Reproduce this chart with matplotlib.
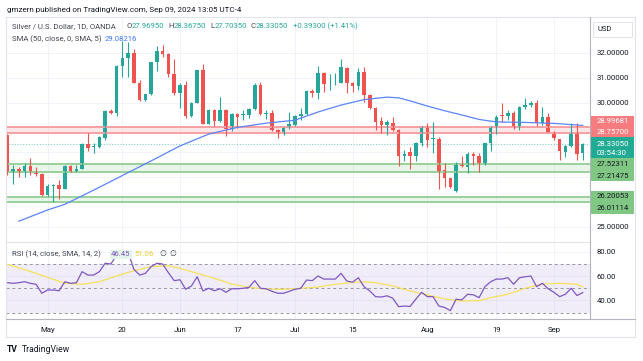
import numpy as np
import pandas as pd
import matplotlib
matplotlib.use('Agg')
import matplotlib.pyplot as plt
from matplotlib.patches import Rectangle
from matplotlib.lines import Line2D

plt.rcParams['font.family'] = ['Roboto', 'DejaVu Sans']

W, H = 643, 361

# 日线数据 (2024-04-22 ~ 2024-09-09)
dates = pd.bdate_range('2024-04-22', '2024-09-09')
opens = [28.69, 27.17, 27.31, 27.17, 27.45, 27.23, 27.14, 26.27, 26.64, 26.68,
         26.53, 27.46, 27.22, 27.33, 28.33, 28.19, 28.19, 28.58, 29.68, 29.56,
         31.48, 31.81, 32.01, 30.80, 30.10, 30.33, 31.62, 32.08, 31.96, 31.16,
         30.38, 30.72, 29.46, 29.99, 31.30, 29.15, 29.72, 29.25, 29.72, 28.93,
         29.54, 29.48, 29.51, 29.75, 30.72, 29.52, 29.58, 28.89, 28.73, 28.97,
         29.10, 29.46, 29.52, 30.46, 30.40, 31.20, 30.77, 30.77, 30.80, 31.38,
         30.77, 30.67, 31.23, 30.29, 29.80, 29.26, 29.09, 29.19, 28.89, 27.84,
         28.00, 27.84, 28.39, 29.02, 28.54, 28.55, 27.28, 26.94, 26.44, 27.53,
         27.39, 27.92, 27.84, 27.50, 28.36, 29.01, 29.50, 29.47, 29.56, 28.96,
         29.83, 29.90, 29.99, 29.16, 29.40, 28.82, 28.52, 28.02, 28.24, 28.82,
         27.9695]
highs = [28.75, 27.48, 27.39, 27.57, 27.75, 27.42, 27.15, 26.70, 26.71, 26.88,
         27.48, 27.50, 27.49, 28.36, 28.76, 28.37, 28.67, 29.72, 29.75, 31.51,
         32.48, 32.45, 32.18, 30.91, 30.36, 31.65, 32.29, 32.32, 31.98, 31.74,
         30.80, 30.88, 30.02, 31.32, 31.55, 29.75, 29.75, 30.24, 29.75, 29.56,
         29.56, 29.70, 29.78, 30.80, 30.84, 29.70, 29.70, 28.94, 29.02, 29.63,
         29.49, 29.80, 30.50, 30.53, 31.49, 31.25, 31.15, 31.18, 31.74, 31.42,
         30.84, 31.38, 31.42, 30.34, 29.83, 29.40, 29.29, 29.40, 28.92, 28.08,
         28.19, 28.42, 29.05, 29.16, 29.21, 28.60, 27.55, 26.97, 27.60, 27.83,
         28.02, 28.02, 27.95, 28.38, 29.04, 29.50, 29.97, 29.70, 29.67, 29.86,
         30.17, 30.07, 30.10, 29.82, 29.60, 28.86, 28.55, 28.27, 29.16, 29.16,
         28.3675]
lows = [27.10, 26.71, 27.01, 26.98, 27.10, 27.04, 26.24, 26.22, 26.00, 26.13,
        26.50, 27.20, 27.19, 27.31, 28.06, 27.97, 28.15, 28.48, 29.53, 29.46,
        31.04, 31.04, 30.77, 30.06, 30.06, 30.30, 31.26, 31.85, 31.02, 30.30,
        29.79, 29.36, 29.43, 29.97, 29.12, 29.12, 29.05, 29.23, 28.66, 28.86,
        28.96, 29.30, 29.36, 29.72, 29.51, 29.32, 28.86, 28.58, 28.68, 28.93,
        29.05, 29.29, 29.49, 30.24, 30.14, 30.44, 30.50, 30.70, 30.77, 30.40,
        30.44, 30.50, 30.03, 29.76, 28.89, 28.76, 28.68, 28.86, 27.45, 27.65,
        27.32, 27.65, 28.24, 28.22, 27.95, 26.50, 26.61, 26.54, 26.41, 27.39,
        27.18, 27.48, 27.21, 27.47, 28.06, 28.72, 29.23, 29.29, 28.95, 28.90,
        29.76, 29.83, 29.06, 29.09, 28.80, 28.49, 27.68, 27.79, 28.19, 27.70,
        27.7035]
closes = [27.17, 27.31, 27.15, 27.45, 27.21, 27.12, 26.27, 26.65, 26.67, 26.53,
          27.46, 27.22, 27.33, 28.33, 28.15, 28.23, 28.62, 29.68, 29.56, 31.48,
          31.81, 32.01, 30.80, 30.10, 30.33, 31.62, 32.08, 31.96, 31.16, 30.38,
          30.72, 29.46, 29.99, 31.30, 29.15, 29.72, 29.25, 29.72, 28.93, 29.54,
          29.43, 29.53, 29.75, 30.72, 29.54, 29.58, 28.89, 28.73, 28.97, 29.12,
          29.46, 29.52, 30.46, 30.40, 31.20, 30.74, 30.80, 30.80, 31.42, 30.77,
          30.67, 31.24, 30.29, 29.79, 29.21, 29.09, 29.21, 28.89, 27.84, 27.92,
          27.84, 28.39, 29.02, 28.49, 28.57, 27.21, 26.94, 26.58, 27.55, 27.44,
          27.94, 27.84, 27.55, 28.36, 29.01, 29.42, 29.46, 29.60, 29.02, 29.83,
          29.90, 29.99, 29.16, 29.40, 28.82, 28.56, 28.06, 28.26, 28.82, 27.94,
          28.3305]

# SMA(50) 读数
sma_idx = [2, 7, 10, 15, 20, 25, 30, 35, 40, 45, 50, 54, 58, 62, 66, 68, 70, 73,
           76, 79, 82, 85, 90, 95, 100]
sma_val = [25.22, 25.67, 25.90, 26.47, 27.06, 27.65, 28.25, 28.73, 29.00, 29.17,
           29.29, 29.62, 29.90, 30.12, 30.22, 30.19, 30.07, 29.86, 29.67, 29.50,
           29.32, 29.22, 29.20, 29.16, 29.08]

# RSI(14)
rsi = [54.6, 54.1, 54.6, 55.4, 54.1, 53.3, 45.9, 48.6, 48.6, 48.0,
       55.4, 54.1, 54.6, 63.7, 60.9, 60.9, 63.7, 70.6, 70.0, 77.4,
       78.8, 79.3, 65.6, 60.9, 62.3, 67.8, 70.6, 70.0, 62.8, 56.3,
       57.0, 49.2, 51.9, 59.5, 47.8, 50.0, 48.0, 49.6, 46.7, 49.6,
       49.6, 50.0, 50.8, 56.3, 50.0, 49.6, 47.5, 45.9, 45.9, 47.5,
       49.2, 50.0, 56.8, 56.3, 60.1, 57.6, 57.6, 57.6, 62.3, 56.0,
       55.0, 58.7, 51.3, 47.8, 43.1, 42.8, 43.8, 41.8, 34.9, 35.3,
       35.1, 41.0, 46.7, 43.1, 43.1, 35.4, 34.2, 31.6, 41.0, 40.5,
       45.1, 44.6, 42.3, 51.3, 55.4, 57.6, 57.6, 58.7, 53.3, 58.7,
       59.5, 60.1, 51.3, 54.1, 49.6, 46.7, 43.1, 45.1, 50.0, 44.0,
       46.45]
rsi_ma_idx = [0, 5, 10, 13, 16, 19, 22, 25, 28, 30, 33, 36, 39, 42, 45, 48, 51, 54,
              57, 60, 62, 64, 67, 70, 73, 76, 79, 82, 84, 87, 90, 93, 96, 99, 100]
rsi_ma_val = [69.8, 62.3, 54.1, 53.3, 55.4, 60.1, 64.5, 67.8, 68.6, 66.5, 62.3, 58.2,
              53.5, 50.8, 49.4, 49.2, 50.0, 51.0, 53.3, 54.9, 55.4, 54.6, 51.9, 47.8,
              44.5, 41.2, 39.5, 39.8, 42.3, 45.1, 50.0, 53.5, 54.1, 53.3, 51.06]

tick_dates = ['2024-05-01', '2024-05-20', '2024-06-03', '2024-06-17', '2024-07-01',
              '2024-07-15', '2024-08-01', '2024-08-19', '2024-09-02']
tick_labels = ['May', '20', 'Jun', '17', 'Jul', '15', 'Aug', '19', 'Sep']
price_ticks = [25, 26, 27, 28, 29, 30, 31, 32]
red_zone = (28.75700, 28.99681)
green_zones = [(27.21475, 27.52311), (26.01114, 26.20053)]

UP, DOWN = '#26a69a', '#ef5350'
TXT = '#131722'
GRAY = '#434651'
FS = 5.6


def fx(x):
    return x / W


def fy(y):
    return 1 - y / H


fig = plt.figure(figsize=(W / 100, H / 100), dpi=100)
fig.patch.set_facecolor('white')
renderer = fig.canvas.get_renderer()

ax = fig.add_axes([fx(6), fy(241), 584 / W, 224 / H])
ax2 = fig.add_axes([fx(6), fy(319), 584 / W, 76 / H], sharex=ax)

x = np.arange(len(dates))
o, h, l, c = map(np.array, (opens, highs, lows, closes))
col = np.where(c >= o, UP, DOWN)

# 区域
ax.axhspan(*red_zone, color='#f23645', alpha=0.12, lw=0)
for v in red_zone:
    ax.axhline(v, color='#f7a1a4', lw=1.4)
for lo, hi in green_zones:
    ax.axhspan(lo, hi, color='#4caf50', alpha=0.12, lw=0)
    ax.axhline(lo, color='#98d09a', lw=1.4)
    ax.axhline(hi, color='#98d09a', lw=1.4)

ax.axhline(c[-1], color=UP, lw=0.8, ls=(0, (1, 1.5)), alpha=0.55)

# K线
ax.vlines(x, l, h, colors=col, lw=0.8)
ax.bar(x, np.maximum(np.abs(c - o), 0.025), bottom=np.minimum(o, c), width=0.62,
       color=col, linewidth=0)
ax.plot(sma_idx, sma_val, color='#5b84f7', lw=0.9)

ax.set_xlim(-0.23, 101.27)
ax.set_ylim(24.42, 33.45)

tick_pos = [dates.get_loc(pd.Timestamp(d)) for d in tick_dates]

for a in (ax, ax2):
    for s in a.spines.values():
        s.set_visible(False)
    a.set_xticks(tick_pos)
    a.grid(True, color='#f0f3fa', lw=0.7)
    a.set_axisbelow(True)
    a.yaxis.tick_right()
    a.tick_params(length=0, labelsize=FS, labelcolor=TXT, pad=5)

ax.set_yticks(price_ticks)
ax.set_yticklabels(['25.00000', '', '', '', '', '30.00000', '31.00000', '32.00000'])
ax.tick_params(axis='x', labelbottom=False)

# RSI
ax2.axhspan(30, 70, color='#7e57c2', alpha=0.1, lw=0)
for v in (30, 50, 70):
    ax2.axhline(v, color='#9598a1', lw=0.7, ls=(0, (3, 3)))
ax2.plot(rsi_ma_idx, rsi_ma_val, color='#f5e15a', lw=0.9)
ax2.plot(x, rsi, color='#7e57c2', lw=0.9)
ax2.set_ylim(24.7, 87.3)
ax2.set_yticks([40, 60, 80])
ax2.set_yticklabels(['40.00', '60.00', '80.00'])
ax2.set_xticklabels(tick_labels)
ax2.tick_params(axis='x', pad=6)


# 框线
def hline(y, x0, x1, color, lw=0.8):
    fig.add_artist(Line2D([fx(x0), fx(x1)], [fy(y), fy(y)], color=color, lw=lw))


def vline(xx, y0, y1, color, lw=0.8):
    fig.add_artist(Line2D([fx(xx), fx(xx)], [fy(y0), fy(y1)], color=color, lw=lw))


hline(17, 6, 635, '#e0e3eb')
hline(337, 6, 635, '#e0e3eb')
vline(6, 17, 337, '#e0e3eb')
vline(635, 17, 337, '#e0e3eb')
hline(242, 6, 590, '#e0e3eb')
hline(319, 6, 635, '#b2b5be')
vline(590, 17, 319, '#b2b5be')


# 价格标签
def box(y0, y1, color):
    fig.add_artist(Rectangle((fx(591), fy(y1)), 43 / W, (y1 - y0) / H,
                             facecolor=color, edgecolor='none'))


box(115.7, 137.3, '#f77c80')
box(137.3, 158.3, '#22ab94')
box(158.3, 180.7, '#81c784')
box(190.7, 214, '#81c784')
labels = [('28.99681', 121, 'white'), ('28.75700', 132, 'white'),
          ('28.33050', 143.5, 'white'), ('03:54:30', 153, 'white'),
          ('27.52311', 164.5, TXT), ('27.21475', 175.5, TXT),
          ('26.20053', 196.5, TXT), ('26.01114', 208, TXT)]
for s, yy, cc in labels:
    fig.text(fx(597), fy(yy), s, color=cc, fontsize=FS, va='center')

fig.add_artist(Rectangle((fx(593), fy(37)), 39 / W, 15 / H, facecolor='white',
                         edgecolor='#e0e3eb', lw=0.7))
fig.text(fx(597), fy(29.5), 'USD', color=TXT, fontsize=5.4, va='center')


# 图例: 逐段排布文字
def seq(x0, y, parts, **kw):
    xp = x0
    for s, cc in parts:
        t = fig.text(fx(xp), fy(y), s, color=cc, fontsize=FS, va='center', **kw)
        xp += t.get_window_extent(renderer).width


fig.text(fx(7), fy(10), 'gmzern published on TradingView.com, Sep 09, 2024 13:05 UTC-4',
         color=TXT, fontsize=5.8, va='center')

seq(11.7, 26.5, [('Silver / U.S. Dollar, 1D, OANDA', GRAY)])
seq(126.7, 26.5, [('O', GRAY), ('27.96950', UP)])
seq(168, 26.5, [('H', GRAY), ('28.36750', UP)])
seq(210.7, 26.5, [('L', GRAY), ('27.70350', UP)])
seq(250.7, 26.5, [('C', GRAY), ('28.33050', UP)])
seq(293, 26.5, [('+0.39300 (+1.41%)', UP)])

seq(11.7, 39.3, [('SMA (50, close, 0, SMA, 5)', GRAY)])
seq(105, 39.3, [('29.08216', '#3d7bf7')])

seq(11.7, 254.5, [('RSI (14, close, SMA, 14, 2)', GRAY)])
fig.text(fx(111), fy(254.5), '46.45', color='#7e57c2', fontsize=FS, va='center',
         bbox=dict(boxstyle='square,pad=0.15', facecolor='#e3f4ea', edgecolor='none'))
seq(134, 254.5, [('51.06', '#e8cf30')])
seq(159, 254.5, [('\u2205', GRAY)])
seq(169, 254.5, [('\u2205', GRAY)])

fig.text(fx(7), fy(349), 'TV', color=TXT, fontsize=6.2, va='center', weight='bold')
fig.text(fx(22), fy(349), 'TradingView', color=TXT, fontsize=6.2, va='center')

fig.savefig('out.png', dpi=100, facecolor='white')
